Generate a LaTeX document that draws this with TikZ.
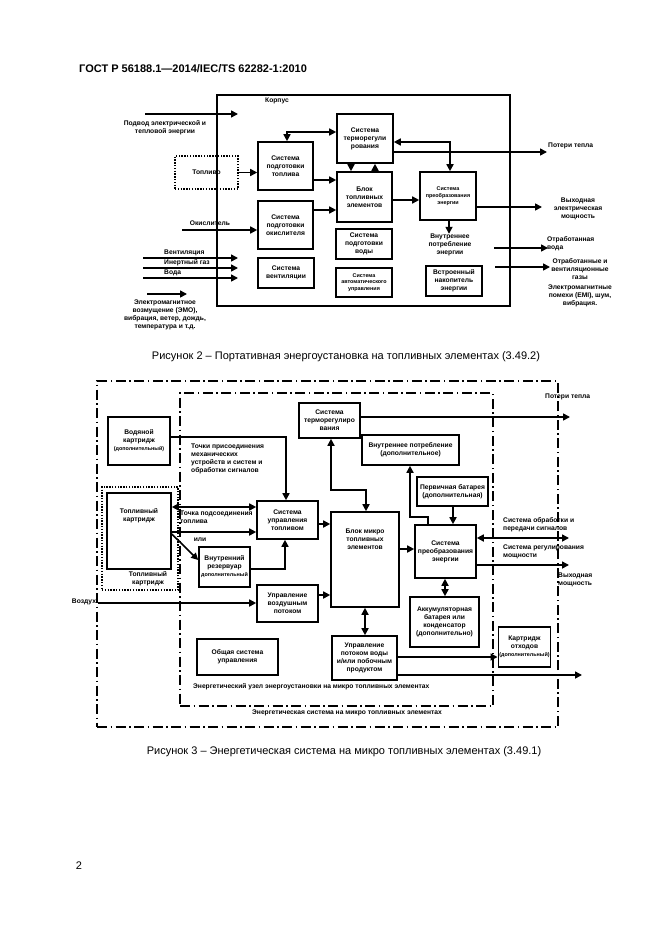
\documentclass[tikz,border=0pt]{standalone}
\usepackage{fontspec}
\setmainfont{Liberation Sans}
\usepackage{tikz}
\usetikzlibrary{arrows.meta}

\newcommand{\dgfont}{\fontsize{6.7}{8}\selectfont\bfseries}
\newcommand{\dgsmall}{\fontsize{5.4}{6.8}\selectfont\bfseries}

\tikzset{
  sz/.style 2 args={minimum width=#1pt, minimum height=#2pt},
  blk/.style={draw, line width=1.6pt, align=center, inner sep=1pt, font=\dgfont},
  dotblk/.style={draw, line width=1.8pt, dash pattern=on 1.4pt off 1.4pt},
  dashdot/.style={draw, line width=1.5pt, dash pattern=on 10pt off 3.5pt on 1.5pt off 3.5pt},
  txt/.style={align=center, inner sep=0pt, font=\dgfont},
  lnk/.style={line width=1.6pt, -{Triangle[length=7pt,width=7pt]}},
  dlnk/.style={line width=1.6pt, {Triangle[length=7pt,width=7pt]}-{Triangle[length=7pt,width=7pt]}},
}

\begin{document}
\begin{tikzpicture}[x=1pt, y=-1pt]
    \useasboundingbox (0,0) rectangle (661,936);

    \node[anchor=west, inner sep=0pt, font=\fontsize{11}{13}\selectfont\bfseries] (gost) at (79,69) {ГОСТ Р 56188.1—2014/IEC/TS 62282-1:2010};

    % Figure 2
    \node[draw, line width=1.6pt, sz={293}{211}] (korpus) at (363.5,200.5) {};
    \node[txt] (korpusL) at (277,101) {Корпус};

    \node[blk, dotblk, sz={63}{33}] (toplivo) at (206.5,172.5) {Топливо};
    \node[blk, sz={55}{48}] (tpodg) at (285.5,166) {Система\\подготовки\\топлива};
    \node[blk, sz={56}{49}] (termo) at (365,138.5) {Система\\терморегули\\рования};
    \node[blk, sz={55}{50}] (blok) at (364.5,197) {Блок\\топливных\\элементов};
    \node[blk, font=\dgsmall, sz={56}{48}] (preob) at (448,196) {Система\\преобразования\\энергии};
    \node[blk, sz={55}{48}] (okis) at (285.5,225) {Система\\подготовки\\окислителя};
    \node[blk, sz={56}{30}] (vent) at (286,273) {Система\\вентиляции};
    \node[blk, sz={56}{30}] (voda) at (364,244) {Система\\подготовки\\воды};
    \node[blk, font=\dgsmall, sz={56}{29}] (avto) at (364,282.5) {Система\\автоматического\\управления};
    \node[blk, sz={56}{30}] (nakop) at (454,281) {Встроенный\\накопитель\\энергии};

    \coordinate (podvA) at (145,114);
    \coordinate (podvB) at (238,114);
    \draw[lnk] (podvA) -- (podvB);
    \node[txt] (podvL) at (165,127.5) {Подвод электрической и\\тепловой энергии};

    \draw[lnk] (toplivo.east) -- (tpodg.west |- toplivo.east);
    \draw[dlnk] (tpodg.north -| 287,0) |- (termo.west |- 0,132);
    \draw[lnk] (termo.south -| 351,0) -- (blok.north -| 351,0);
    \draw[lnk] (blok.north -| 375,0) -- (termo.south -| 375,0);
    \draw[lnk] (tpodg.east |- 0,180) -- (blok.west |- 0,180);
    \draw[lnk] (okis.east |- 0,210) -- (blok.west |- 0,210);
    \draw[lnk] (blok.east |- 0,200) -- (preob.west |- 0,200);
    \draw[dlnk] (termo.east |- 0,142) -| (preob.north -| 450,0);

    \coordinate (poterA) at (547,152);
    \draw[lnk] (termo.east |- 0,152) -- (poterA);
    \node[txt, anchor=west] (poterL) at (548,146) {Потери тепла};

    \coordinate (vyxA) at (542,207);
    \draw[lnk] (preob.east |- 0,207) -- (vyxA);
    \node[txt] (vyxL) at (578,209) {Выходная\\электрическая\\мощность};

    \node[txt] (vnpL) at (450,245) {Внутреннее\\потребление\\энергии};
    \draw[lnk] (preob.south -| 449,0) -- (vnpL.north -| 449,0);

    \coordinate (okA) at (182,230);
    \draw[lnk] (okA) -- (okis.west |- okA);
    \node[txt] (okL) at (210,223) {Окислитель};

    \coordinate (ventA) at (143,258);
    \coordinate (ventB) at (238,258);
    \coordinate (inertA) at (143,268);
    \coordinate (inertB) at (238,268);
    \coordinate (vodaA) at (143,278);
    \coordinate (vodaB) at (238,278);
    \draw[lnk] (ventA) -- (ventB);
    \draw[lnk] (inertA) -- (inertB);
    \draw[lnk] (vodaA) -- (vodaB);
    \node[txt, anchor=west] (ventL) at (164,253) {Вентиляция};
    \node[txt, anchor=west] (inertL) at (164,263) {Инертный газ};
    \node[txt, anchor=west] (vodaL) at (164,273) {Вода};

    \coordinate (emoA) at (147,294);
    \coordinate (emoB) at (187,294);
    \draw[lnk] (emoA) -- (emoB);
    \node[txt] (emoL) at (165,315) {Электромагнитное\\возмущение (ЭМО),\\вибрация, ветер, дождь,\\температура и т.д.};

    \coordinate (ovA) at (494,248);
    \coordinate (ovB) at (548,248);
    \draw[lnk] (ovA) -- (ovB);
    \node[txt, align=left, anchor=west] (ovL) at (547,244) {Отработанная\\вода};

    \coordinate (ogA) at (495,267);
    \coordinate (ogB) at (550,267);
    \draw[lnk] (ogA) -- (ogB);
    \node[txt] (ogL) at (580,269) {Отработанные и\\вентиляционные\\газы};
    \node[txt] (emiL) at (580,296) {Электромагнитные\\помехи (EMI), шум,\\вибрация.};

    \node[font=\fontsize{11}{13}\selectfont, inner sep=0pt] (cap2) at (346,357) {Рисунок 2 – Портативная энергоустановка на топливных элементах (3.49.2)};

    % Figure 3
    \node[dashdot, sz={461}{346}] (outer) at (327.5,554) {};
    \node[dashdot, sz={313}{313}] (inner) at (336.5,549.5) {};

    \node[blk, sz={62}{48}] (vodk) at (139,441) {Водяной\\картридж\\{\dgsmall(дополнительный)}};
    \node[blk, sz={61}{35}] (ftermo) at (329.5,420.5) {Система\\терморегулиро\\вания};
    \node[blk, sz={97}{30}] (fvnp) at (410.5,450) {Внутреннее потребление\\(дополнительное)};
    \node[blk, sz={71}{29}] (fperv) at (452.5,491.5) {Первичная батарея\\(дополнительная)};
    \node[blk, sz={68}{95}] (fblok) at (365,559.5) {};
    \node[txt, below=17pt] (fblokT) at (fblok.north) {Блок микро\\топливных\\элементов};
    \node[blk, sz={61}{53}] (fpreob) at (445.5,551.5) {Система\\преобразования\\энергии};
    \node[blk, sz={69}{50}] (fakk) at (444.5,622) {Аккумуляторная\\батарея или\\конденсатор\\(дополнительно)};
    \node[blk, sz={61}{38}] (fupt) at (287.5,520) {Система\\управления\\топливом};
    \node[dotblk, sz={76}{103}] (kartdot) at (140,538.5) {};
    \node[blk, sz={64}{76}] (kart) at (139,531) {};
    \node[txt, below=16pt] (kartT) at (kart.north) {Топливный\\картридж};
    \node[txt] (kartL) at (148,579) {Топливный\\картридж};
    \node[blk, sz={51}{40}] (frez) at (224.5,567) {Внутренний\\резервуар\\{\dgsmall дополнительный}};
    \node[blk, sz={61}{37}] (fvoz) at (287.5,603.5) {Управление\\воздушным\\потоком};
    \node[blk, sz={81}{36}] (fobsh) at (237.5,657) {Общая система\\управления};
    \node[blk, sz={65}{44}] (fvodupr) at (364.5,658) {Управление\\потоком воды\\и/или побочным\\продуктом};
    \node[blk, sz={51}{40}] (fotx) at (524.5,647) {Картридж\\отходов\\{\dgsmall(дополнительный)}};

    \draw[lnk] (vodk.east |- 0,437) -| (fupt.north -| 286,0);
    \node[txt, align=left, anchor=north west] (tochL) at (191,444) {Точки присоединения\\механических\\устройств и систем  и\\обработки сигналов};

    \draw[dlnk] (ftermo.south -| 331,0) |- (366,490) -- (fblok.north -| 366,0);
    \coordinate (ptA) at (570,417);
    \draw[lnk] (ftermo.east |- 0,417) -- (ptA);
    \node[txt, anchor=west] (ptL) at (545,397) {Потери тепла};

    \draw[lnk] (fpreob.north -| 428,0) |- (410,517) -- (fvnp.south -| 410,0);
    \draw[lnk] (fperv.south -| 453,0) -- (fpreob.north -| 453,0);
    \draw[lnk] (fupt.east |- 0,524) -- (fblok.west |- 0,524);
    \draw[lnk] (fvoz.east |- 0,595) -- (fblok.west |- 0,595);
    \draw[lnk] (fblok.east |- 0,549) -- (fpreob.west |- 0,549);
    \draw[dlnk] (fpreob.south -| 445,0) -- (fakk.north -| 445,0);
    \draw[dlnk] (fblok.south) -- (fvodupr.north -| fblok.south);
    \draw[lnk] (fvodupr.east |- 0,657) -- (fotx.west |- 0,657);
    \coordinate (vodoutA) at (582,675);
    \draw[lnk] (fvodupr.east |- 0,675) -- (vodoutA);

    \coordinate (sigA) at (569,538);
    \draw[dlnk] (fpreob.east |- 0,538) -- (sigA);
    \coordinate (pwrA) at (569,565);
    \draw[lnk] (fpreob.east |- 0,565) -- (pwrA);
    \node[txt, align=left, anchor=west] (sigL) at (503,525) {Система обработки и\\передачи сигналов};
    \node[txt, align=left, anchor=west] (regL) at (503,552) {Система регулирования\\мощности};
    \node[txt, align=left, anchor=west] (pwrL) at (558,580) {Выходная\\мощность};

    \draw[dlnk] (kart.east |- 0,507) -- (fupt.west |- 0,507);
    \node[txt, align=left, anchor=west] (tpL) at (180,517) {Точка подсоединения\\топлива};
    \draw[lnk] (kart.east |- 0,532) -- (fupt.west |- 0,532);
    \node[txt] (iliL) at (200,540) {или};
    \draw[lnk] (kart.east |- 0,534) -- (frez.west |- 0,560);
    \draw[lnk] (frez.east |- 0,569) -| (fupt.south -| 285,0);

    \coordinate (airA) at (98,603);
    \draw[lnk] (airA) -- (fvoz.west |- airA);
    \node[txt] (airL) at (84,602) {Воздух};

    \node[txt, anchor=west] (uzelL) at (193,687) {Энергетический  узел энергоустановки на микро топливных элементах};
    \node[txt, anchor=west] (sysL) at (252,713) {Энергетическая система на  микро топливных элементах};

    \node[font=\fontsize{11}{13}\selectfont, inner sep=0pt] (cap3) at (344,752) {Рисунок 3 – Энергетическая система на микро топливных элементах (3.49.1)};

    \node[font=\fontsize{11}{13}\selectfont, inner sep=0pt] (pagenum) at (79,866) {2};
\end{tikzpicture}
\end{document}
